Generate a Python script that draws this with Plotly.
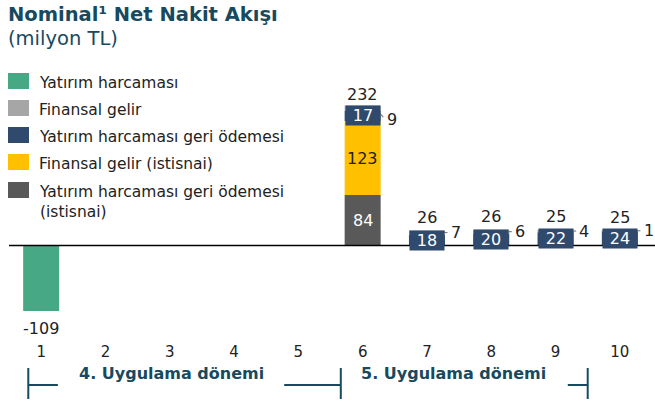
import plotly.graph_objects as go

# ---------------- data ----------------
years = [1, 2, 3, 4, 5, 6, 7, 8, 9, 10]
tick_labels = ["1", "2", "3", "4", "5", "6", "7", "8", "9", "10"]

yatirim = [-109, None, None, None, None, None, None, None, None, None]          # Yatırım harcaması
fin_gelir = [None, None, None, None, None, 9, 7, 6, 4, 1]                        # Finansal gelir
geri_odeme = [None, None, None, None, None, 17, 18, 20, 22, 24]                  # Yatırım harcaması geri ödemesi
fin_istisnai = [None, None, None, None, None, 123, None, None, None, None]       # Finansal gelir (istisnai)
geri_istisnai = [None, None, None, None, None, 84, None, None, None, None]       # Yatırım harcaması geri ödemesi (istisnai)
totals = [-109, None, None, None, None, 232, 26, 26, 25, 25]

names = ["Yatırım harcaması", "Finansal gelir", "Yatırım harcaması geri ödemesi",
         "Finansal gelir (istisnai)", "Yatırım harcaması geri ödemesi<br>(istisnai)"]
colors = ["#47A886", "#A6A6A6", "#2F4A6D", "#FFC000", "#595959"]

periods = ["4. Uygulama dönemi", "5. Uygulama dönemi"]

# ---------------- layout geometry ----------------
PLOT_L, PLOT_R, PLOT_T, PLOT_B = 9, 652, 55, 341   # plot area in page pixels
W, H = 655, 405
ML, MT = PLOT_L, PLOT_T
PW, PH = PLOT_R - PLOT_L, PLOT_B - PLOT_T
MR, MB = W - ML - PW, H - MT - PH
YMIN, YMAX = -159, 317
PPU = PH / (YMAX - YMIN)   # px per data unit
BW = 0.56
TXT = "#174A5E"
FONT = "DejaVu Sans"


def px2paper_x(px):
    return (px - PLOT_L) / PW


def py2paper_y(py):
    return (PLOT_B - py) / PH


fig = go.Figure()

# stacking order (bottom -> top): geri_istisnai, fin_istisnai, geri_odeme, fin_gelir
stack = [(geri_istisnai, colors[4]), (fin_istisnai, colors[3]),
         (geri_odeme, colors[2]), (fin_gelir, colors[1])]
fig.add_trace(go.Bar(x=years, y=yatirim, marker_color=colors[0], width=BW,
                     showlegend=False, marker_line_width=0))
for vals, col in stack:
    fig.add_trace(go.Bar(x=years, y=vals, marker_color=col, width=BW,
                         showlegend=False, marker_line_width=0))

ann = []
shapes = []

# zero line
shapes.append(dict(type="line", xref="paper", yref="y", x0=0, x1=1.01, y0=0, y1=0,
                   line=dict(color="black", width=1.5)))

# labels
for i, x in enumerate(years):
    base = 0
    if yatirim[i] is not None:
        ann.append(dict(x=x, y=yatirim[i], text=str(yatirim[i]), showarrow=False,
                        yanchor="top", yshift=-6, font=dict(size=16, color="#222")))
    if geri_istisnai[i] is not None:
        v = geri_istisnai[i]
        ann.append(dict(x=x, y=base + v / 2, text=str(v), showarrow=False,
                        font=dict(size=16, color="white")))
        base += v
    if fin_istisnai[i] is not None:
        v = fin_istisnai[i]
        ann.append(dict(x=x, y=base + v / 2, text=str(v), showarrow=False,
                        font=dict(size=16, color="#222")))
        base += v
    if geri_odeme[i] is not None:
        v = geri_odeme[i]
        ann.append(dict(x=x, y=base + v / 2, text=str(v), showarrow=False,
                        bgcolor=colors[2], width=34, height=19, borderpad=0,
                        font=dict(size=16, color="white")))
        base += v
    if fin_gelir[i] is not None:
        v = fin_gelir[i]
        seg_c = base + v / 2
        big = base > 100
        lab_y = seg_c - (11 / PPU if big else 0)
        x0 = x + BW / 2 - (0.08 if big else 0.03)
        shapes.append(dict(type="line", xref="x", yref="y", x0=x0, x1=x + 0.32,
                           y0=seg_c, y1=lab_y + (2 / PPU if big else 0),
                           line=dict(color="#7F7F7F", width=1.2)))
        ann.append(dict(x=x + 0.34, y=lab_y, text=str(v), showarrow=False,
                        xanchor="left", font=dict(size=16, color="#222")))
        base += v
    if totals[i] is not None and totals[i] > 0:
        ann.append(dict(x=x, y=base, text=str(totals[i]), showarrow=False,
                        yanchor="middle", yshift=11 if base > 100 else 13,
                        font=dict(size=16, color="#222")))

# title
ann.append(dict(xref="paper", yref="paper", x=px2paper_x(6), y=py2paper_y(14),
                xanchor="left", yanchor="middle", showarrow=False,
                text="<b>Nominal¹ Net Nakit Akışı</b>",
                font=dict(size=19.5, color=TXT, family=FONT)))
ann.append(dict(xref="paper", yref="paper", x=px2paper_x(6), y=py2paper_y(38),
                xanchor="left", yanchor="middle", showarrow=False,
                text="(milyon TL)", font=dict(size=19.5, color=TXT, family=FONT)))

# custom legend
leg_y = [81, 108, 135, 162, 190]
for name, col, ly in zip(names, colors, leg_y):
    shapes.append(dict(type="rect", xref="paper", yref="paper",
                       x0=px2paper_x(8), x1=px2paper_x(29),
                       y0=py2paper_y(ly - 8), y1=py2paper_y(ly + 8),
                       fillcolor=col, line_width=0))
    ann.append(dict(xref="paper", yref="paper", x=px2paper_x(37), y=py2paper_y(ly - 9),
                    xanchor="left", yanchor="top", showarrow=False, align="left",
                    text=name, font=dict(size=15.5, color="#222", family=FONT)))

# period brackets
yb = py2paper_y(385)
yv0, yv1 = py2paper_y(368), py2paper_y(399)
for xv in [0.80, 5.66, 9.50]:
    shapes.append(dict(type="line", xref="x", yref="paper", x0=xv, x1=xv, y0=yv0, y1=yv1,
                       line=dict(color=TXT, width=2)))
for a, b in [(0.80, 1.26), (4.78, 5.66), (9.19, 9.50)]:
    shapes.append(dict(type="line", xref="x", yref="paper", x0=a, x1=b, y0=yb, y1=yb,
                       line=dict(color=TXT, width=2)))
for text, xc in zip(periods, [3.03, 7.41]):
    ann.append(dict(xref="x", yref="paper", x=xc, y=yb, showarrow=False,
                    text="<b>" + text + "</b>", font=dict(size=16, color=TXT, family=FONT)))

fig.update_layout(
    width=W, height=H,
    margin=dict(l=ML, r=MR, t=MT, b=MB),
    barmode="relative",
    plot_bgcolor="white", paper_bgcolor="white",
    font=dict(family=FONT, size=15, color="#222"),
    xaxis=dict(range=[0.5, 10.5], tickmode="array", tickvals=years, ticktext=tick_labels,
               showgrid=False, zeroline=False, showline=False, ticks="",
               tickfont=dict(size=15, color="#222")),
    yaxis=dict(range=[YMIN, YMAX], visible=False, showgrid=False, zeroline=False),
    annotations=ann,
    shapes=shapes,
)

# remove the default 8px page margin so the 655x405 figure fills the window exactly
fig.write_html("out.html",
               config={"displayModeBar": False},
               post_script="document.body.style.margin='0';document.body.style.overflow='hidden';")
